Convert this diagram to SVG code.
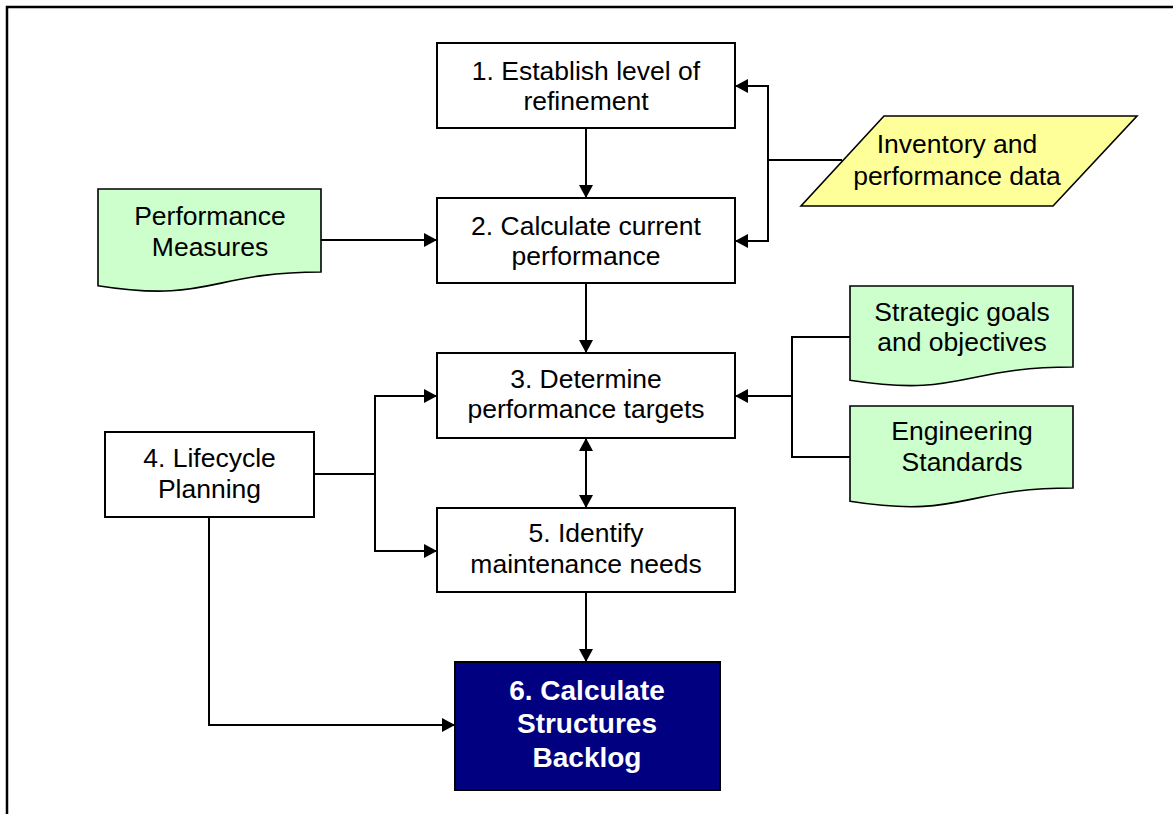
<svg xmlns="http://www.w3.org/2000/svg" width="1173" height="814" viewBox="0 0 1173 814">
<defs>
<marker id="ah" markerUnits="userSpaceOnUse" markerWidth="14" markerHeight="14" refX="13" refY="7" orient="auto-start-reverse" viewBox="0 0 14 14">
<path d="M0,0 L13,7 L0,14 Z" fill="#000"/>
</marker>
<style>
.box{fill:#fff;stroke:#000;stroke-width:2}
.doc{fill:#ccffcc;stroke:#000;stroke-width:1.6}
.t{font-family:"Liberation Sans",Arial,sans-serif;font-size:26.5px;fill:#000;text-anchor:middle}
.tb{font-family:"Liberation Sans",Arial,sans-serif;font-size:28px;font-weight:bold;fill:#fff;text-anchor:middle}
.c{fill:none;stroke:#000;stroke-width:2}
.a{marker-end:url(#ah)}
</style>
</defs>
<rect width="1173" height="814" fill="#fff"/>
<rect x="7" y="7" width="1200" height="900" fill="none" stroke="#000" stroke-width="2.5"/>

<g id="connectors">
<path class="c a" d="M586,128 V198"/>
<path class="c a" d="M586,283 V353"/>
<path class="c a" d="M586,592 V662"/>
<path class="c a" d="M586,508 V438" style="marker-start:url(#ah)"/>
<path class="c a" d="M321,240 H437"/>
<path class="c" d="M842,160 H768"/>
<path class="c a" d="M768,160 V86 H735"/>
<path class="c a" d="M768,160 V241 H735"/>
<path class="c" d="M850,337 H792 V457 H850"/>
<path class="c a" d="M792,396 H735"/>
<path class="c" d="M314,474 H375"/>
<path class="c a" d="M375,474 V396 H437"/>
<path class="c a" d="M375,474 V551 H437"/>
<path class="c a" d="M209,517 V725 H455"/>
</g>

<g id="n1">
<rect class="box" x="437" y="43" width="298" height="85"/>
<text class="t" x="586" y="80">1. Establish level of</text>
<text class="t" x="586" y="110">refinement</text>
</g>
<g id="n2">
<rect class="box" x="437" y="198" width="298" height="85"/>
<text class="t" x="586" y="235">2. Calculate current</text>
<text class="t" x="586" y="265">performance</text>
</g>
<g id="n3">
<rect class="box" x="437" y="353" width="298" height="85"/>
<text class="t" x="586" y="388">3. Determine</text>
<text class="t" x="586" y="418">performance targets</text>
</g>
<g id="n4">
<rect class="box" x="105" y="432" width="209" height="85"/>
<text class="t" x="209.5" y="467">4. Lifecycle</text>
<text class="t" x="209.5" y="498">Planning</text>
</g>
<g id="n5">
<rect class="box" x="437" y="508" width="298" height="84"/>
<text class="t" x="586" y="542">5. Identify</text>
<text class="t" x="586" y="573">maintenance needs</text>
</g>
<g id="n6">
<rect x="455" y="662" width="265" height="128" fill="#000080" stroke="#000" stroke-width="2"/>
<text class="tb" x="587" y="700">6. Calculate</text>
<text class="tb" x="587" y="733">Structures</text>
<text class="tb" x="587" y="767">Backlog</text>
</g>
<g id="perf-measures">
<path class="doc" d="M98,189 H321 V272 C209.5,272 209.5,303.6 98,285.7 Z"/>
<text class="t" x="210" y="225">Performance</text>
<text class="t" x="210" y="256">Measures</text>
</g>
<g id="inventory">
<path d="M884,116 H1137 L1053,206 H801 Z" fill="#ffff99" stroke="#000" stroke-width="1.6"/>
<text class="t" x="957" y="153">Inventory and</text>
<text class="t" x="957" y="185">performance data</text>
</g>
<g id="strategic">
<path class="doc" d="M850,286 H1073 V367 C961.5,367 961.5,397.8 850,380.3 Z"/>
<text class="t" x="962" y="321">Strategic goals</text>
<text class="t" x="962" y="351">and objectives</text>
</g>
<g id="engineering">
<path class="doc" d="M850,406 H1073 V488 C961.5,488 961.5,519 850,501.3 Z"/>
<text class="t" x="962" y="440">Engineering</text>
<text class="t" x="962" y="471">Standards</text>
</g>
</svg>
